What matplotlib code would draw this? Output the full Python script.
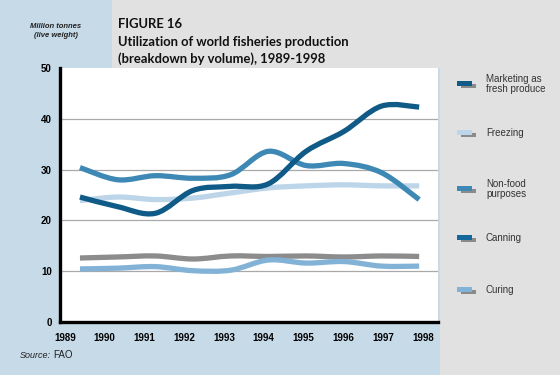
import numpy as np
import matplotlib
matplotlib.use("Agg")
import matplotlib.pyplot as plt
from matplotlib.path import Path
from matplotlib.patches import PathPatch, Rectangle

years = [1989, 1990, 1991, 1992, 1993, 1994, 1995, 1996, 1997, 1998]
fresh = [24.6, 22.7, 21.4, 25.9, 26.7, 27.2, 33.6, 37.5, 42.5, 42.3]
freezing = [23.9, 24.6, 24.1, 24.4, 25.4, 26.4, 26.8, 27.0, 26.8, 26.8]
nonfood = [30.4, 28.0, 28.8, 28.3, 29.0, 33.6, 30.8, 31.2, 29.4, 24.1]
canning = [12.6, 12.8, 13.0, 12.4, 13.0, 12.9, 13.0, 12.8, 13.0, 12.9]
curing = [10.45, 10.6, 10.9, 10.1, 10.2, 12.2, 11.6, 11.9, 11.0, 11.0]
year_labels = [str(y) for y in years]
yticks = [0, 10, 20, 30, 40, 50]
legend_labels = ["Marketing as\nfresh produce", "Freezing", "Non-food\npurposes", "Canning", "Curing"]

c_dark = "#0f5a87"
c_freeze = "#bcd5e8"
c_nonfood = "#3d88b4"
c_cann = "#8c8c8c"
c_curing = "#82b3d6"
legend_colors = [c_dark, c_freeze, c_nonfood, "#13679a", c_curing]

BLUE_BG = "#c6dae8"
GREY_BG = "#e1e1e1"
TFONT = ["Lato", "DejaVu Sans"]

fig = plt.figure(figsize=(5.6, 3.75), dpi=100)
fig.patch.set_facecolor(BLUE_BG)
W, H = 560.0, 375.0
fig.add_artist(Rectangle((112 / W, (H - 68) / H), 1, 68 / H, transform=fig.transFigure,
                         facecolor=GREY_BG, edgecolor="none", zorder=0))
fig.add_artist(Rectangle((440 / W, 0), 1, 1, transform=fig.transFigure,
                         facecolor=GREY_BG, edgecolor="none", zorder=0))

ax = fig.add_axes([60 / W, (H - 322) / H, (438 - 60) / W, (322 - 68) / H])
ax.set_facecolor("white")
ax.set_xlim(1988.47, 1998.5)
ax.set_ylim(0, 50)
for s in ["top", "right"]:
    ax.spines[s].set_visible(False)
for s in ["left", "bottom"]:
    ax.spines[s].set_linewidth(2.4)
    ax.spines[s].set_color("black")
ax.set_yticks(yticks)
ax.set_yticklabels([str(v) for v in yticks], fontsize=7, fontweight="bold",
                   family="Liberation Sans")
ax.set_xticks(np.linspace(1988.6, 1998.1, 10))
ax.set_xticklabels(year_labels, fontsize=7, fontweight="bold", family="Liberation Sans")
ax.tick_params(axis="y", length=0, pad=6)
ax.tick_params(axis="x", length=0, pad=8)
for v in yticks[1:-1]:
    ax.axhline(v, color="#a9a9a9", lw=0.9, zorder=1)


def smooth_path(xs, ys):
    xs = np.asarray(xs, float)
    ys = np.asarray(ys, float)
    verts = [(xs[0], ys[0])]
    codes = [Path.MOVETO]
    n = len(xs)
    for i in range(n - 1):
        p0 = (xs[max(i - 1, 0)], ys[max(i - 1, 0)])
        p1 = (xs[i], ys[i])
        p2 = (xs[i + 1], ys[i + 1])
        p3 = (xs[min(i + 2, n - 1)], ys[min(i + 2, n - 1)])
        c1 = (p1[0] + (p2[0] - p0[0]) / 6, p1[1] + (p2[1] - p0[1]) / 6)
        c2 = (p2[0] - (p3[0] - p1[0]) / 6, p2[1] - (p3[1] - p1[1]) / 6)
        verts += [c1, c2, p2]
        codes += [Path.CURVE4] * 3
    return Path(verts, codes)


series = [(canning, c_cann), (curing, c_curing), (freezing, c_freeze),
          (nonfood, c_nonfood), (fresh, c_dark)]
for vals, col in series:
    patch = PathPatch(smooth_path(years, vals), facecolor="none", edgecolor=col,
                      lw=3.8, capstyle="butt", joinstyle="round", zorder=3)
    ax.add_patch(patch)

# Title
for txt, yb in [("FIGURE 16", 28), ("Utilization of world fisheries production", 46),
                ("(breakdown by volume), 1989-1998", 63)]:
    fig.text(118 / W, 1 - yb / H, txt, fontsize=9.4, fontweight="bold",
             family=TFONT, color="#111111", va="baseline")

fig.text(56 / W, 1 - 31 / H, "Million tonnes\n(live weight)", fontsize=5.5,
         fontweight="bold", style="italic", family="Liberation Sans", ha="center",
         va="center", linespacing=1.35, color="#222222")

# Source
fig.text(20 / W, 1 - 355 / H, "Source:", fontsize=6.5, style="italic",
         family="Liberation Sans", va="center", color="#222222")
fig.text(53 / W, 1 - 355 / H, "FAO", fontsize=7, family="Liberation Sans",
         va="center", color="#222222")

# Legend
leg_y = [84, 133, 189, 238, 290]
for lab, col, yy in zip(legend_labels, legend_colors, leg_y):
    fig.add_artist(Rectangle((461 / W, 1 - (yy + 4) / H), 15 / W, 4 / H,
                             transform=fig.transFigure, facecolor="#8a8a8a",
                             edgecolor="none", zorder=2))
    fig.add_artist(Rectangle((457 / W, 1 - (yy + 2) / H), 15 / W, 5 / H,
                             transform=fig.transFigure, facecolor=col,
                             edgecolor="none", zorder=3))
    fig.text(486 / W, 1 - yy / H, lab, fontsize=7, family="Liberation Sans",
             va="center", ha="left", color="#333333", linespacing=1.1)

fig.savefig("out.png", dpi=100, facecolor=fig.get_facecolor())
